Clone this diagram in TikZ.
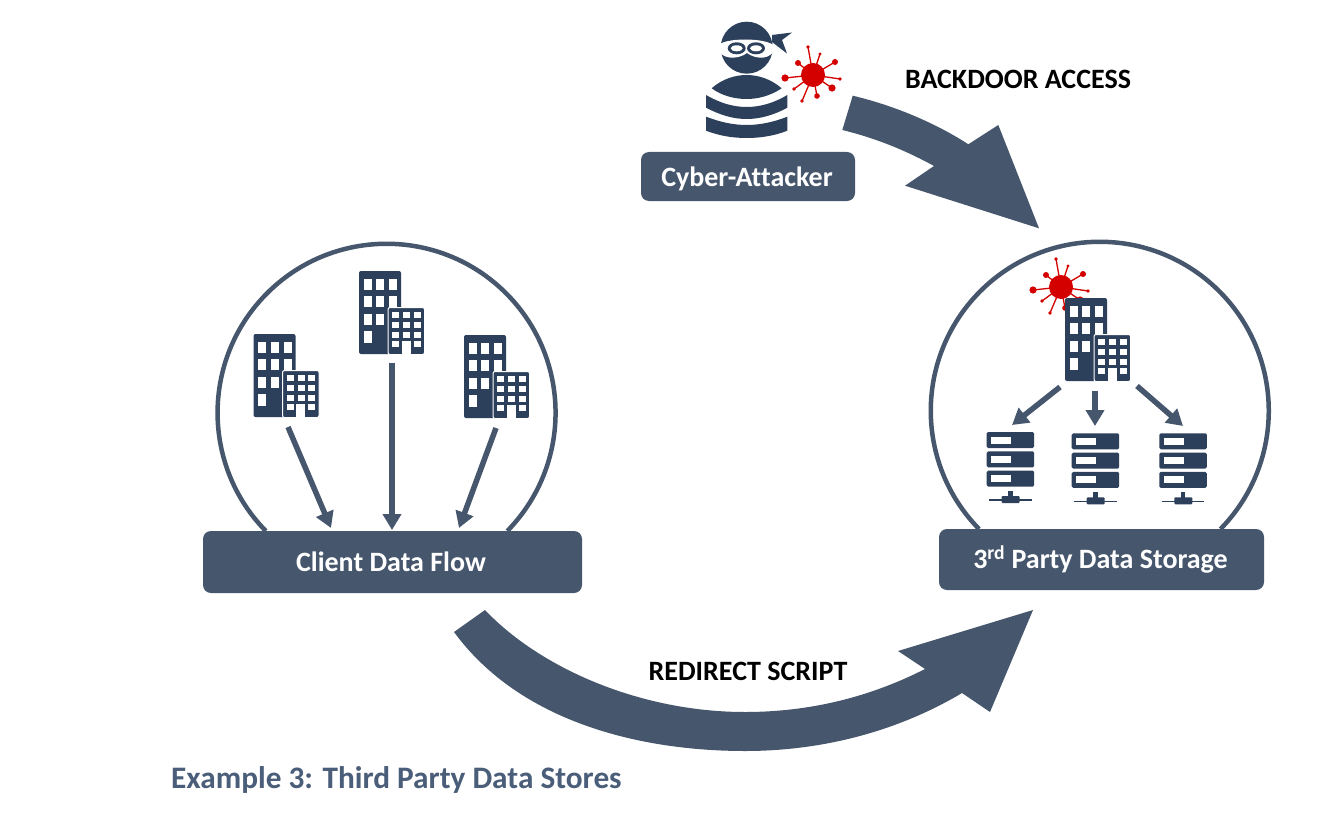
\documentclass[tikz,border=0pt]{standalone}
\usepackage{fontspec}
\setmainfont{Carlito}[Ligatures=NoCommon]
\usetikzlibrary{arrows.meta}
\definecolor{slatebar}{HTML}{46566C}
\definecolor{iconblue}{HTML}{2C3F5B}
\definecolor{virusred}{HTML}{D40000}
\definecolor{titleblue}{HTML}{4A5E7A}
\tikzset{
  x=1pt,y=-1pt,
  barbox/.style={fill=slatebar,draw=none,rounded corners=8pt},
  bartext/.style={text=white,font=\fontsize{28}{32}\selectfont\bfseries,inner sep=0pt,anchor=center},
  blacktext/.style={text=black,font=\fontsize{28}{32}\selectfont\bfseries,inner sep=0pt,anchor=center},
  ring/.style={draw=slatebar,line width=4.5pt},
  flow/.style={draw=slatebar,line width=5.5pt,-{Triangle[length=16pt,width=18pt]}},
  bigarrow/.style={fill=slatebar,draw=none},
  building/.pic={
    \fill[iconblue,rounded corners=2pt] (0,0) rectangle (42,83);
    \foreach \cx in {4.7,17.3,30}{\foreach \ry in {7.7,24.5,42.5}{
      \fill[white] (\cx,\ry) rectangle ++(8,11);}}
    \fill[white] (4.7,59.5) rectangle ++(8,12);
    \fill[iconblue,draw=white,line width=1pt,rounded corners=2pt] (29,36.5) rectangle (65.5,83.5);
    \foreach \cx in {4,15,25.7}{\foreach \ry in {4.3,14.3,24.3}{
      \fill[white] (29+\cx,36.5+\ry) rectangle ++(7,6.5);}}
    \fill[white] (29+4,36.5+33.7) rectangle ++(7,6);
    \fill[white] (29+25.7,36.5+33.7) rectangle ++(7,6);
    \fill[white] (29+13.5,36.5+33) rectangle (29+22.5,84);
  },
  server/.pic={
    \foreach \ry in {0,19.3,38.6}{
      \fill[iconblue,rounded corners=1.5pt] (0,\ry) rectangle (47.5,\ry+16);
      \fill[white] (4.7,\ry+4.5) rectangle ++(20,7);
    }
    \fill[iconblue] (21.5,59) rectangle (26,66);
    \fill[iconblue,rounded corners=1pt] (15,64) rectangle (33,71);
    \draw[iconblue,line width=1.5pt] (2.5,68) -- (45,68);
  },
  virus/.pic={
    \foreach \dx/\dy/\br in {-5/-28/1.8,7/-21/1.6,22/-13/3,27/4/1.8,19/13/3.6,4/21/2.8,-11/26/1.8,-19/14/1.8,-28/3/3.6,-15/-12/3}{
      \draw[virusred,line width=1.3pt] (0,0) -- (\dx,\dy);
      \fill[virusred] (\dx,\dy) circle[radius=\br];
    }
    \fill[virusred] (0,0) circle[radius=12];
  }
}
\begin{document}
\begin{tikzpicture}
\useasboundingbox (0,0) rectangle (1337,829);
\fill[white] (0,0) rectangle (1337,829);

% rings
\draw[ring] (507.3,531) arc[start angle=44.4,end angle=-224.4,radius=169];
\draw[ring] (1220.5,529) arc[start angle=44.4,end angle=-224.4,radius=169];

% bars
\fill[barbox] (203,531) rectangle (582,593);
\fill[barbox] (939,529) rectangle (1264,590);
\fill[barbox] (641,152) rectangle (855,201);
\node[bartext] (client) at (391,562) {Client Data Flow};
\node[bartext] (party) at (1100.5,559.5) {3\textsuperscript{rd} Party Data Storage};
\node[bartext] (attacker) at (747,178.5) {Cyber-Attacker};

% attacker icon
\fill[iconblue] (746.7,47.7) circle[radius=26];
\fill[iconblue] (772,35) -- (792,32.5) -- (782,40) -- (787,53.5) -- (772,42) -- cycle;
\fill[white] (717,47) .. controls (720,37) and (770,37) .. (775,47) .. controls (773,60) and (756,60) .. (747,53) .. controls (738,60) and (720,60) .. (717,47) -- cycle;
\fill[iconblue] (736.7,48.3) ellipse[x radius=9,y radius=6];
\fill[iconblue] (756,48.3) ellipse[x radius=9,y radius=6];
\fill[white] (736.7,48.3) ellipse[x radius=6,y radius=3];
\fill[white] (756,48.3) ellipse[x radius=6,y radius=3];
\fill[iconblue] (711.7,88.3) .. controls (722,79) and (735,75) .. (746.7,75) .. controls (758,75) and (771,79) .. (781.7,88.3) .. controls (770,96) and (758,99) .. (746.7,99) .. controls (735,99) and (722,96) .. (711.7,88.3) -- cycle;
\fill[iconblue] (706,95) .. controls (720,103) and (733,107) .. (746.7,107) .. controls (760,107) and (774,103) .. (787.3,95) -- (787.3,107.7) .. controls (774,115) and (760,119) .. (746.7,119) .. controls (733,119) and (720,115) .. (706,107.7) -- cycle;
\fill[iconblue] (706,116.7) .. controls (720,122) and (733,125) .. (746.7,125) .. controls (760,125) and (774,122) .. (787.3,116.7) -- (787.3,130.7) .. controls (774,136) and (760,138) .. (746.7,138) .. controls (733,138) and (720,136) .. (706,130.7) -- cycle;
\pic (attackervirus) at (813,75) {virus};

% client buildings
\pic (bleft) at (253.5,334) {building};
\pic (bmid) at (359,271) {building};
\pic (bright) at (464,335) {building};

% client arrows
\coordinate (cl1) at (288,427);
\coordinate (cl2) at (331,528);
\coordinate (cm1) at (392,363);
\coordinate (cm2) at (392,530);
\coordinate (cr1) at (496,428);
\coordinate (cr2) at (459,528);
\draw[flow] (cl1) -- (cl2);
\draw[flow] (cm1) -- (cm2);
\draw[flow] (cr1) -- (cr2);

% storage
\pic (pvirus) at (1061,287) {virus};
\pic (pbuilding) at (1065,298) {building};
\coordinate (pl1) at (1060,387);
\coordinate (pl2) at (1012,425);
\coordinate (pm1) at (1095,391);
\coordinate (pm2) at (1095,426);
\coordinate (pr1) at (1137,386);
\coordinate (pr2) at (1183,426);
\draw[flow] (pl1) -- (pl2);
\draw[flow] (pm1) -- (pm2);
\draw[flow] (pr1) -- (pr2);
\pic (s1) at (986.7,432) {server};
\pic (s2) at (1071.7,433.3) {server};
\pic (s3) at (1159.3,433.3) {server};

% big arrows
\fill[bigarrow] (852.7,95.7) .. controls (892,105) and (934,122) .. (968.3,144.3) -- (998.3,125) -- (1039,228.3) -- (905,185.7) -- (934,166) .. controls (905,150) and (875,138) .. (842.3,130) -- cycle;
\fill[bigarrow] (485,610) .. controls (540,668) and (640,712) .. (745,712) .. controls (810,712) and (870,697) .. (925,669) -- (898,651) -- (1033,610) -- (990,712) -- (962,693) .. controls (900,730) and (825,751) .. (745,751) .. controls (640,751) and (520,722) .. (454,632) -- cycle;

% labels
\node[blacktext] (backdoor) at (1018,79) {BACKDOOR ACCESS};
\node[blacktext] (redirect) at (748,671) {REDIRECT SCRIPT};
\node[text=titleblue,font=\fontsize{31.3}{36}\selectfont\bfseries,inner sep=0pt,anchor=base west] (caption) at (171,788) {Example 3: Third Party Data Stores};
\end{tikzpicture}
\end{document}
